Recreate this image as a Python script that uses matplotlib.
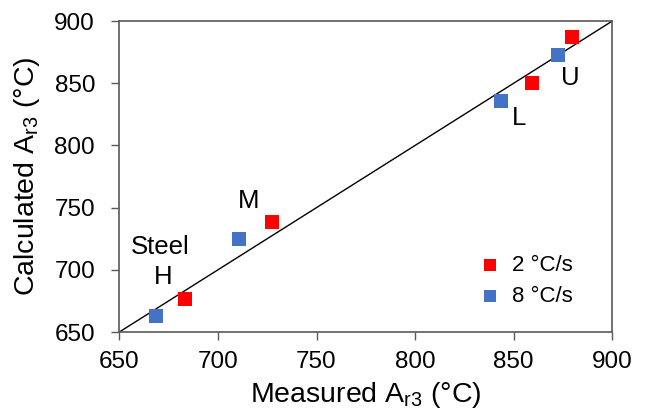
import matplotlib
matplotlib.use("Agg")
import matplotlib.pyplot as plt

plt.rcParams['font.family'] = ['Liberation Sans', 'DejaVu Sans']

meas_2 = [683.3, 727.6, 859.4, 879.4]
calc_2 = [676.5, 738.7, 849.9, 886.9]
meas_8 = [668.5, 710.7, 843.4, 872.6]
calc_8 = [663.1, 724.8, 835.7, 872.7]
labels = ["Steel", "H", "M", "L", "U"]
label_x = [670.6, 672.3, 715.8, 852.8, 878.5]
label_y = [718.6, 694.0, 755.3, 821.8, 854.0]

fig = plt.figure(figsize=(6.51, 4.17), dpi=100)
ax = fig.add_axes([0.1833, 0.2038, 0.7573, 0.7458])
ax.plot([650, 900], [650, 900], color='black', lw=1.0, zorder=1)
ax.scatter(meas_2, calc_2, marker='s', s=115, color='#ff0000', label='2 °C/s', zorder=3, linewidths=0)
ax.scatter(meas_8, calc_8, marker='s', s=115, color='#4472c4', label='8 °C/s', zorder=3, linewidths=0)

for t, x, y in zip(labels, label_x, label_y):
    ax.text(x, y, t, ha='center', va='center', fontsize=18.5)

ax.set_xlim(650, 900)
ax.set_ylim(650, 900)
ax.set_xticks(range(650, 901, 50))
ax.set_yticks(range(650, 901, 50))
ax.tick_params(labelsize=17.5, direction='out', length=5.5, width=1.0, color='#595959',
               top=False, right=False)
ax.tick_params(axis='x', pad=8)
ax.tick_params(axis='y', pad=12)
for s in ax.spines.values():
    s.set_color('#595959')
    s.set_linewidth(1.2)
ax.set_xlabel('Measured A$_{\\mathregular{r3}}$ (°C)', fontsize=20.5, labelpad=5)
ax.set_ylabel('Calculated A$_{\\mathregular{r3}}$ (°C)', fontsize=20.5, labelpad=9)
leg = ax.legend(loc='center left', frameon=False, fontsize=16, handletextpad=0.5,
                handlelength=1.0, borderpad=0, borderaxespad=0,
                bbox_to_anchor=(0.729, 0.163), markerscale=0.75,
                labelspacing=0.45)
fig.savefig('out.png', dpi=100)
